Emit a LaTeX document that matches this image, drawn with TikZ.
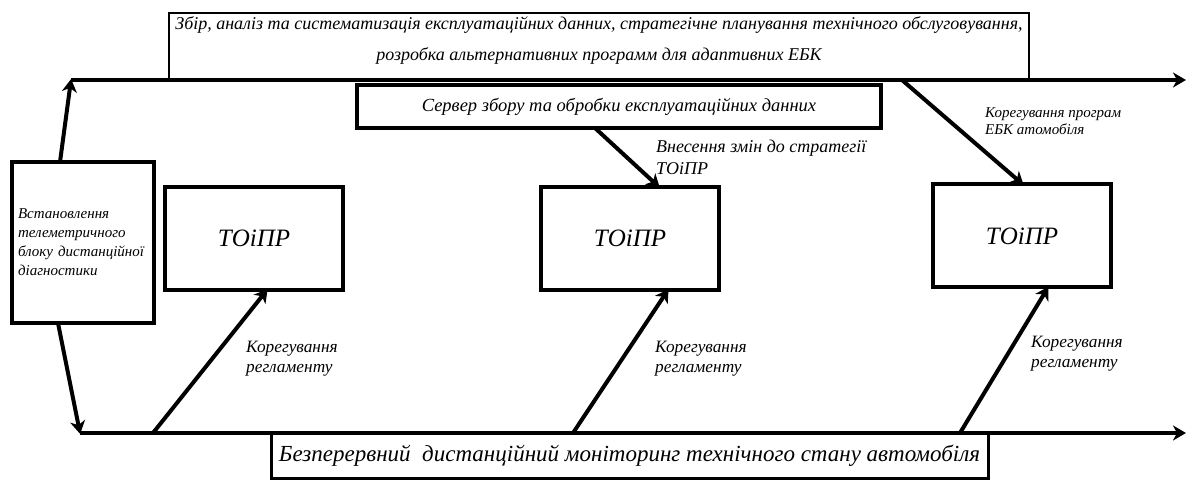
\documentclass[tikz,border=0pt]{standalone}
\usepackage{fontspec}
\setmainfont{Liberation Serif}
\usetikzlibrary{arrows.meta}

\tikzset{
	box/.style={draw, line width=4pt, rectangle, outer sep=0pt, inner sep=0pt, align=center, font=\itshape},
	toipr/.style={box, minimum width=178pt, minimum height=103pt, font=\fontsize{25}{28}\selectfont\itshape},
	axis/.style={line width=4pt, -{Stealth[length=13pt,width=15pt,inset=4pt]}},
	link/.style={line width=4pt, -{Stealth[length=13pt,width=15pt,inset=4pt]}, shorten >=-1pt},
	note/.style={anchor=north west, align=left, inner sep=0pt, font=\fontsize{17.3}{20}\selectfont\itshape}
}

\begin{document}
\begin{tikzpicture}[x=1pt, y=-1pt]
		\useasboundingbox (0, 0) rectangle (1187, 481);
		
		\node[box, line width=2pt, minimum width=860pt, minimum height=67pt] (plan) at (599, 46.5) {};
		\node[align=center, inner sep=0pt, font=\fontsize{18}{31}\selectfont\itshape] (plantext) at (599, 40) {Збір, аналіз та систематизація експлуатаційних данних, стратегічне планування технічного обслуговування,\\розробка альтернативних программ для адаптивних ЕБК};
		\node[box, minimum width=524pt, minimum height=43pt, font=\fontsize{18.5}{20}\selectfont\itshape] (server) at (619, 106.5) {Сервер збору та обробки експлуатаційних данних};
		\node[box, minimum width=142pt, minimum height=161pt, text width=130pt, align=left, font=\fontsize{15}{19}\selectfont\itshape] (telem) at (83, 242.5) {Встановлення\\телеметричного\\блоку дистанційної\\діагностики};
		\node[box, line width=3pt, minimum width=717pt, minimum height=45pt, font=\fontsize{23}{26}\selectfont\itshape] (monit) at (629.5, 455.5) {Безперервний\ \ дистанційний моніторинг технічного стану автомобіля};
		
		\node[toipr] (to1) at (254, 238.5) {ТОіПР};
		\node[toipr] (to2) at (630, 238.5) {ТОіПР};
		\node[toipr] (to3) at (1022, 236) {ТОіПР};
		
		\coordinate (topL) at (71, 80);
		\coordinate (topR) at (1186, 80);
		\coordinate (botL) at (80, 433);
		\coordinate (botR) at (1186, 433);
		\coordinate (b1) at (153, 433);
		\coordinate (b2) at (573, 433);
		\coordinate (b3) at (960, 433);
		\coordinate (t3) at (902, 80);
		
		\draw[axis] (topL) -- (topR);
		\draw[axis] (botL) -- (botR);
		
		\draw[link] (telem.north -| 60, 0) -- (topL);
		\draw[link] (telem.south -| 58, 0) -- (botL);
		\draw[link] (b1) -- (to1.south -| 267, 0);
		\draw[link] (b2) -- (to2.south -| 668, 0);
		\draw[link] (b3) -- (to3.south -| 1048, 0);
		\draw[link] (server.south -| 595, 0) -- (to2.north -| 659, 0);
		\draw[link] (t3) -- (to3.north -| 1023, 0);
		
		\node[note] (reg1) at (246, 341) {Корегування\\регламенту};
		\node[note] (reg2) at (655, 341) {Корегування\\регламенту};
		\node[note] (reg3) at (1031, 336) {Корегування\\регламенту};
		\node[note, font=\fontsize{18}{22}\selectfont\itshape] (chg) at (656, 140) {Внесення змін до стратегії\\ТОіПР};
		\node[note, font=\fontsize{15}{17.5}\selectfont\itshape] (prog) at (985, 107) {Корегування програм\\ЕБК атомобіля};
	\end{tikzpicture}
\end{document}
